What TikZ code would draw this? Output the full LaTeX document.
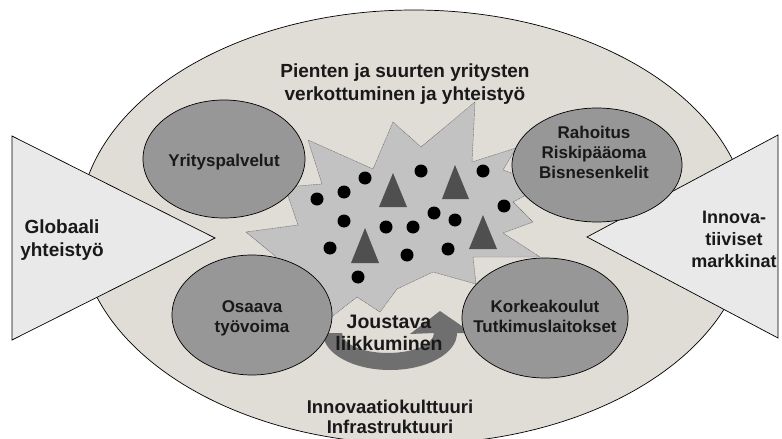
\documentclass[tikz,border=0pt]{standalone}
\usepackage{fontspec}
\setmainfont{Liberation Sans}
\begin{document}
\begin{tikzpicture}[x=1pt,y=-1pt,
  lbl/.style={font=\bfseries\fontsize{19}{23}\selectfont, text=black!90, align=center, anchor=base, inner sep=0pt},
  small/.style={font=\bfseries\fontsize{17}{20}\selectfont, text=black!90, align=center, anchor=base, inner sep=0pt},
  field/.style={fill=bgbeige, draw=black, line width=0.7pt},
  wedge/.style={fill=wedgegrey, draw=black, line width=0.7pt},
  actor/.style={fill=actorgrey, draw=black, line width=0.7pt},
  cloud/.style={fill=burstgrey, draw=black!60, line width=0.4pt, dash pattern=on 1pt off 0.6pt},
  firm/.style={circle, fill=black, inner sep=0pt, minimum size=13pt},
  bigfirm/.style={fill=trigrey},
]
\definecolor{bgbeige}{HTML}{E0DCD6}
\definecolor{wedgegrey}{HTML}{E9E9E9}
\definecolor{actorgrey}{HTML}{979797}
\definecolor{burstgrey}{HTML}{C2C2C2}
\definecolor{trigrey}{HTML}{4F4F4F}
\definecolor{arrowgrey}{HTML}{6F6F6F}

\useasboundingbox (0,0) rectangle (782,439);

% operating environment
\draw[field] (414,227) ellipse[x radius=335, y radius=217];

% incoming / outgoing wedges
\draw[wedge] (12,136) -- (215,238) -- (12,340) -- cycle;
\draw[wedge] (778,135) -- (587,237) -- (778,338) -- cycle;

% networking burst
\draw[cloud] (308,140) -- (322,184) -- (285,187) -- (298,225) -- (246,232) -- (275,256)
  -- (300,290) -- (330,318) -- (357,297) -- (380,312) -- (397,289) -- (433,272)
  -- (476,284) -- (473,257) -- (540,257) -- (503,233) -- (533,222) -- (513,202)
  -- (545,185) -- (503,170) -- (516,148) -- (472,162) -- (475,102) -- (421,147)
  -- (393,122) -- (373,169) -- cycle;

% flexible mobility arrow
\fill[arrowgrey] (323,333) arc[start angle=180, end angle=0, x radius=67, y radius=37]
  -- (472,333) -- (440,311) -- (410,334) -- (434,333)
  arc[start angle=0, end angle=180, x radius=46, y radius=20] -- cycle;

% actors
\draw[actor] (224,159) ellipse[x radius=81, y radius=59];
\draw[actor] (597,165) ellipse[x radius=85, y radius=57];
\draw[actor] (252,315) ellipse[x radius=80, y radius=60];
\draw[actor] (545,318) ellipse[x radius=83, y radius=60];

% firms
\foreach \p [count=\i] in {(365,178),(421,171),(483,171),(317,199),(344,192),(344,221),
  (434,213),(455,220),(504,206),(386,227),(413,227),(330,248),(407,255),(448,249),(358,277)}
  \node[firm] (f\i) at \p {};
\fill[bigfirm] (393,173) -- (407,207) -- (379,207) -- cycle;
\fill[bigfirm] (455,165) -- (469,199) -- (442,199) -- cycle;
\fill[bigfirm] (365,228) -- (379,263) -- (351,263) -- cycle;
\fill[bigfirm] (483,215) -- (497,249) -- (469,249) -- cycle;

% labels (base anchor sits on the last line)
\node[lbl] (net) at (405,100) {Pienten ja suurten yritysten\\verkottuminen ja yhteistyö};
\node[lbl] (glob) at (62,256) {Globaali\\yhteistyö};
\node[lbl, font=\bfseries\fontsize{18}{22}\selectfont] (mark) at (734,267) {Innova-\\tiiviset\\markkinat};
\node[small] (yp) at (224,166) {Yrityspalvelut};
\node[small] (rah) at (594,178) {Rahoitus\\Riskipääoma\\Bisnesenkelit};
\node[small] (osa) at (252,332) {Osaava\\työvoima};
\node[small] (kor) at (545,332) {Korkeakoulut\\Tutkimuslaitokset};
\node[lbl, font=\bfseries\fontsize{19.5}{22}\selectfont] (jou) at (389,350) {Joustava\\liikkuminen};
\node[lbl, font=\bfseries\fontsize{18.5}{20}\selectfont] (inf) at (390,433) {Innovaatiokulttuuri\\Infrastruktuuri};
\end{tikzpicture}
\end{document}
